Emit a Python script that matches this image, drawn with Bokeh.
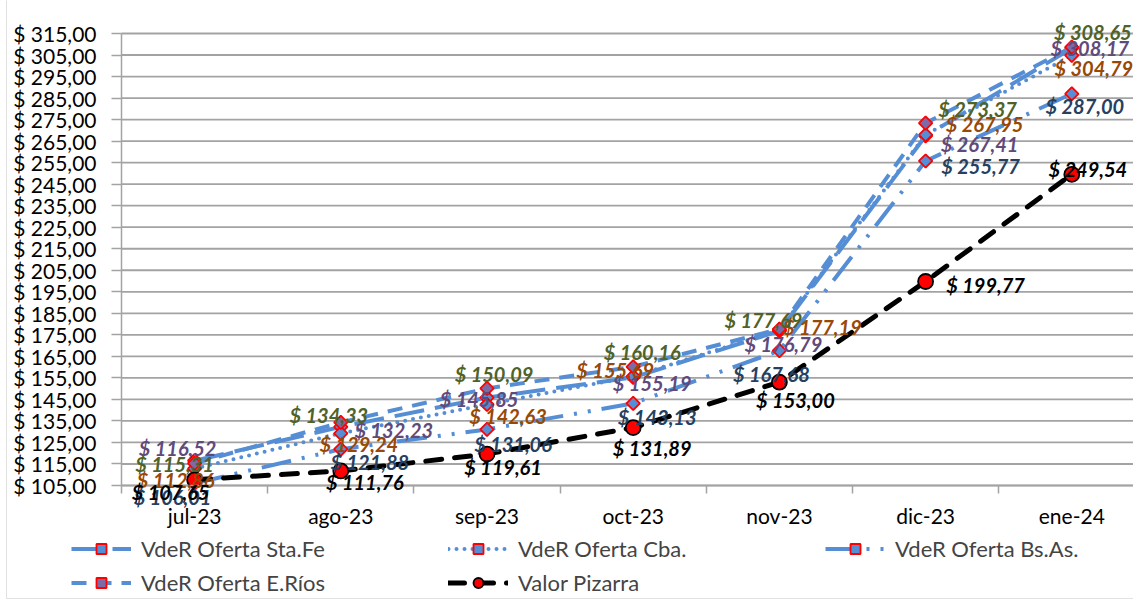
import math
from bokeh.plotting import figure
from bokeh.models import (ColumnDataSource, FixedTicker, LabelSet, Legend, LegendItem,
                          BoxAnnotation, LinearAxis)
from bokeh.core.properties import value
from bokeh.embed import file_html
from bokeh.resources import INLINE

# ---------------- data ----------------
months = ["jul-23", "ago-23", "sep-23", "oct-23", "nov-23", "dic-23", "ene-24"]
sta_fe = [116.52, 132.23, 145.85, 155.19, 176.79, 267.41, 308.17]
cba = [112.86, 129.24, 142.63, 155.69, 177.19, 267.95, 304.79]
bs_as = [106.01, 121.88, 131.06, 143.13, 167.68, 255.77, 287.00]
e_rios = [115.31, 134.33, 150.09, 160.16, 177.69, 273.37, 308.65]
pizarra = [107.65, 111.76, 119.61, 131.89, 153.00, 199.77, 249.54]
y_ticks = list(range(105, 316, 10))

series_names = ["VdeR Oferta Sta.Fe", "VdeR Oferta Cba.", "VdeR Oferta Bs.As.",
                "VdeR Oferta E.Ríos", "Valor Pizarra"]
series_values = [sta_fe, cba, bs_as, e_rios, pizarra]

# ---------------- styles ----------------
LINE_BLUE = "#558ED5"
GRID = "#a3a3a3"
label_colors = ["#604A7B", "#984807", "#254061", "#4F6228", "#000000"]
dashes = ["30 11", "0 8", "30 11 3 11 3 11", "15 10", "16 13"]
line_widths = [4, 4, 4, 4, 5]
line_colors = [LINE_BLUE] * 4 + ["#000000"]
caps = ["butt", "round", "butt", "butt", "round"]
# label offsets in screen px (dx right, dy up) relative to each point
label_dx = [
    [-17, 53, -8, 19, 4, 54, 18],
    [-19, 18, 21, -18, 43, 59, 22],
    [-22, 29, 26, 24, -8, 55, 13],
    [-20, -12, 7, 9, -16, 52, 21],
    [-24, 24, 16, 19, 16, 60, 16],
]
label_dy = [
    [13, -3, -1, -6, -13, -8, 0],
    [-11, -11, -11, 6, 3, 11, -13],
    [-14, -13, -15, -14, -23, -5, -12],
    [-1, 7, 14, 15, 9, 14, 15],
    [-12, -11, -13, -20, -18, -3, 5],
]

def money(v):
    return "$ " + f"{v:.2f}".replace(".", ",")

FONT = "Lato"
W, H = 1133, 608
# plot-area geometry (pixels in the canvas)
AX_LEFT, AX_BOTTOM, AX_TOP = 121, 485, 33
STEP = 146.2
ppu = (AX_BOTTOM - AX_TOP) / (y_ticks[-1] - y_ticks[0])
x0 = -0.5 - AX_LEFT / STEP
x1 = -0.5 + (W - AX_LEFT) / STEP
y0 = y_ticks[0] - (H - AX_BOTTOM) / ppu
y1 = y_ticks[-1] + AX_TOP / ppu

p = figure(width=W, height=H, output_backend="svg", toolbar_location=None,
           x_range=(x0, x1), y_range=(y0, y1),
           min_border=0, x_axis_location=None, y_axis_location=None)
p.outline_line_color = None
p.background_fill_color = "white"
p.border_fill_color = "white"
p.xgrid.visible = False
p.ygrid.visible = False

# chart border
p.add_layout(BoxAnnotation(left=6, right=W + 20, top=10, bottom=H + 20,
                           left_units="screen", right_units="screen",
                           top_units="screen", bottom_units="screen",
                           fill_color=None, line_color="#9a9a9a", line_width=1))

# horizontal gridlines from the axis to the right edge
xs = list(range(len(months)))
p.segment(x0=[-0.5] * len(y_ticks), x1=[x1] * len(y_ticks), y0=y_ticks, y1=y_ticks,
          line_color=GRID, line_width=1.8)

xaxis = LinearAxis(fixed_location=y_ticks[0], bounds=(-0.5, x1))
xaxis.ticker = FixedTicker(ticks=xs, minor_ticks=[i - 0.5 for i in range(len(months) + 1)])
xaxis.major_label_overrides = {i: m for i, m in enumerate(months)}
xaxis.major_tick_line_color = None
xaxis.major_tick_out = 0
xaxis.major_tick_in = 0
xaxis.minor_tick_line_color = GRID
xaxis.minor_tick_line_width = 1.5
xaxis.minor_tick_out = 8
xaxis.minor_tick_in = 0
xaxis.axis_line_color = GRID
xaxis.axis_line_width = 1.5
xaxis.major_label_text_font = FONT
xaxis.major_label_text_font_size = "21px"
xaxis.major_label_text_color = "black"
xaxis.major_label_standoff = 9
p.add_layout(xaxis, "below")

yaxis = LinearAxis(fixed_location=-0.5, bounds=(y_ticks[0], y_ticks[-1]))
yaxis.ticker = FixedTicker(ticks=y_ticks)
yaxis.major_label_overrides = {t: money(t) for t in y_ticks}
yaxis.major_tick_out = 10
yaxis.major_tick_in = 0
yaxis.major_tick_line_color = GRID
yaxis.major_tick_line_width = 1.5
yaxis.minor_tick_line_color = None
yaxis.axis_line_color = GRID
yaxis.axis_line_width = 1.5
yaxis.major_label_text_font = FONT
yaxis.major_label_text_font_size = "21px"
yaxis.major_label_text_color = "black"
yaxis.major_label_standoff = 15
p.add_layout(yaxis, "left")

items = []
for k, (name, vals) in enumerate(zip(series_names, series_values)):
    src = ColumnDataSource(dict(x=xs, y=vals))
    ln = p.line("x", "y", source=src, line_color=line_colors[k], line_width=line_widths[k],
                line_dash=dashes[k], line_cap=caps[k])
    if k < 4:
        fill = "#7D6BA8" if k == 3 else LINE_BLUE
        mk = p.scatter("x", "y", source=src, marker="square", size=9.5, angle=math.pi / 4,
                       fill_color=fill, line_color="#FF0000", line_width=1.8)
    else:
        mk = p.scatter("x", "y", source=src, marker="circle", size=15,
                       fill_color="#FF0000", line_color="black", line_width=1.8)
    items.append(LegendItem(label=name, renderers=[ln, mk]))

for k, vals in enumerate(series_values):
    lsrc = ColumnDataSource(dict(x=xs, y=vals, t=[money(v) for v in vals],
                                 dx=label_dx[k], dy=label_dy[k]))
    ls = LabelSet(x="x", y="y", text="t", source=lsrc, x_offset="dx", y_offset="dy",
                  text_align="center", text_baseline="middle",
                  text_font=value(FONT), text_font_size=value("20px"),
                  text_font_style="bold italic", text_color=label_colors[k])
    p.add_layout(ls)

legend = Legend(items=items, location=(71, 12), orientation="horizontal", ncols=3,
                glyph_width=60, glyph_height=25, label_height=25, label_width=300,
                label_standoff=10, spacing=7, padding=5, margin=0,
                label_text_font=FONT, label_text_font_size="22px",
                border_line_color=None, background_fill_alpha=0)
p.add_layout(legend, "center")

open("out.html", "w").write(file_html(p, INLINE))
